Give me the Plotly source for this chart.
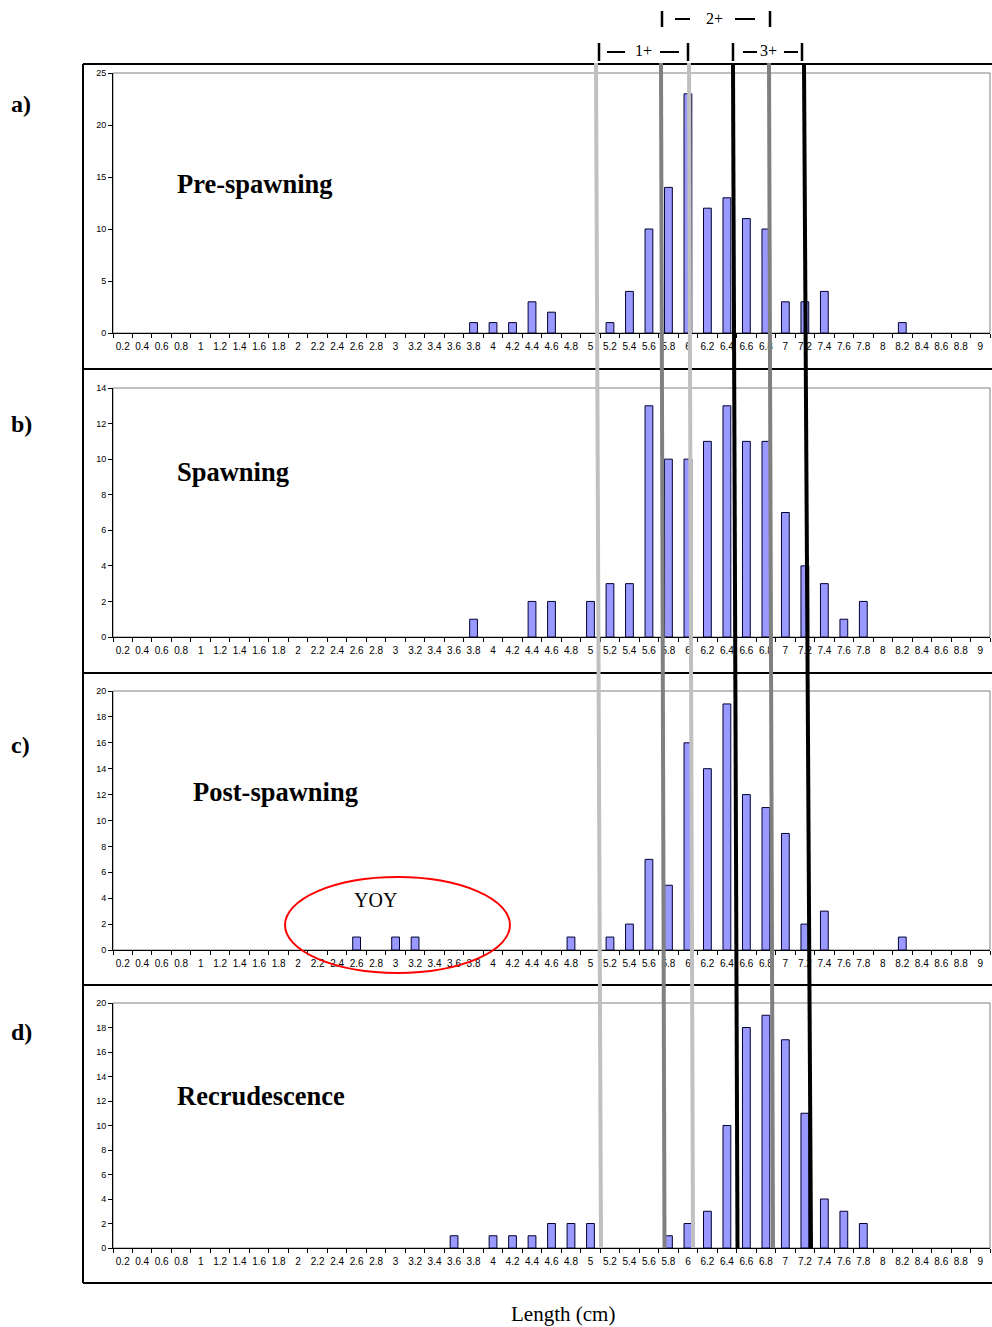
import plotly.graph_objects as go

# Length classes (cm) shown on every category axis
length_classes = ["0.2", "0.4", "0.6", "0.8", "1", "1.2", "1.4", "1.6", "1.8", "2",
                  "2.2", "2.4", "2.6", "2.8", "3", "3.2", "3.4", "3.6", "3.8", "4",
                  "4.2", "4.4", "4.6", "4.8", "5", "5.2", "5.4", "5.6", "5.8", "6",
                  "6.2", "6.4", "6.6", "6.8", "7", "7.2", "7.4", "7.6", "7.8", "8",
                  "8.2", "8.4", "8.6", "8.8", "9"]

# a) Pre-spawning
pre_len = ["3.8", "4", "4.2", "4.4", "4.6", "5.2", "5.4", "5.6", "5.8", "6",
           "6.2", "6.4", "6.6", "6.8", "7", "7.2", "7.4", "8.2"]
pre_n = [1, 1, 1, 3, 2, 1, 4, 10, 14, 23, 12, 13, 11, 10, 3, 3, 4, 1]

# b) Spawning
spawn_len = ["3.8", "4.4", "4.6", "5", "5.2", "5.4", "5.6", "5.8", "6", "6.2",
             "6.4", "6.6", "6.8", "7", "7.2", "7.4", "7.6", "7.8"]
spawn_n = [1, 2, 2, 2, 3, 3, 13, 10, 10, 11, 13, 11, 11, 7, 4, 3, 1, 2]

# c) Post-spawning
post_len = ["2.6", "3", "3.2", "4.8", "5.2", "5.4", "5.6", "5.8", "6", "6.2",
            "6.4", "6.6", "6.8", "7", "7.2", "7.4", "8.2"]
post_n = [1, 1, 1, 1, 1, 2, 7, 5, 16, 14, 19, 12, 11, 9, 2, 3, 1]

# d) Recrudescence
recr_len = ["3.6", "4", "4.2", "4.4", "4.6", "4.8", "5", "5.8", "6", "6.2",
            "6.4", "6.6", "6.8", "7", "7.2", "7.4", "7.6", "7.8"]
recr_n = [1, 1, 1, 1, 2, 2, 2, 1, 2, 3, 10, 18, 19, 17, 11, 4, 3, 2]

panel_letters = ["a)", "b)", "c)", "d)"]
panel_titles = ["Pre-spawning", "Spawning", "Post-spawning", "Recrudescence"]
y_max = [25, 14, 20, 20]
y_step = [5, 2, 2, 2]

W, H = 992, 1327


def px(x):
    return x / W


def py(y):
    return 1 - y / H


# pixel geometry of each panel: (plot top, plot bottom, title x, title y, letter y)
PLOT_L, PLOT_R = 113, 990
geom = [
    (73, 333, 175, 184, 104),
    (388, 637, 175, 472, 424),
    (691, 950, 191, 792, 745),
    (1003, 1248, 175, 1096, 1032),
]

series = [(pre_len, pre_n), (spawn_len, spawn_n), (post_len, post_n), (recr_len, recr_n)]

SERIF = "Liberation Serif, Times New Roman, serif"
SANS = "Liberation Sans, Arial, sans-serif"

fig = go.Figure()
shapes = []
annotations = []
layout_axes = {}

for i, (lens, counts) in enumerate(series):
    lookup = dict(zip(lens, counts))
    y_full = [lookup.get(c) for c in length_classes]
    k = "" if i == 0 else str(i + 1)
    fig.add_trace(go.Bar(
        x=length_classes, y=y_full, xaxis="x" + k, yaxis="y" + k,
        marker=dict(color="#9999FF", line=dict(color="#000033", width=1)),
        showlegend=False, hoverinfo="x+y",
    ))
    top, bot, tx, ty, ly = geom[i]
    layout_axes["xaxis" + k] = dict(
        domain=[px(PLOT_L), px(PLOT_R)], anchor="y" + k,
        type="category", categoryorder="array", categoryarray=length_classes,
        range=[-0.5, len(length_classes) - 0.5],
        tickmode="linear", dtick=1, tickson="boundaries",
        ticks="outside", ticklen=4, tickcolor="#000", tickwidth=1,
        ticklabelstandoff=4,
        tickangle=0, tickfont=dict(family=SANS, size=10, color="#000"),
        showline=True, linecolor="#000", linewidth=1, showgrid=False, zeroline=False,
        fixedrange=True, automargin=False,
    )
    layout_axes["yaxis" + k] = dict(
        domain=[py(bot), py(top)], anchor="x" + k,
        range=[0, y_max[i]], tickmode="linear", tick0=0, dtick=y_step[i],
        ticks="outside", ticklen=4, tickcolor="#000", tickwidth=1,
        tickfont=dict(family=SANS, size=9, color="#000"),
        showline=True, linecolor="#000", linewidth=1, showgrid=False, zeroline=False,
        fixedrange=True, automargin=False,
    )
    # grey plot-area frame
    shapes.append(dict(type="rect", xref="paper", yref="paper",
                       x0=px(PLOT_L), x1=px(PLOT_R), y0=py(bot), y1=py(top),
                       line=dict(color="#808080", width=1), layer="below"))
    annotations.append(dict(text="<b>" + panel_titles[i] + "</b>", x=px(tx), y=py(ty),
                            xref="paper", yref="paper", xanchor="left", yanchor="middle",
                            showarrow=False,
                            font=dict(family=SERIF, size=26.5, color="#000")))
    annotations.append(dict(text="<b>" + panel_letters[i] + "</b>", x=px(9), y=py(ly),
                            xref="paper", yref="paper", xanchor="left", yanchor="middle",
                            showarrow=False,
                            font=dict(family=SERIF, size=24, color="#000")))

# outer black panel frames
for yb in [64, 369, 673, 985, 1283]:
    shapes.append(dict(type="line", xref="paper", yref="paper",
                       x0=px(83), x1=px(1000), y0=py(yb), y1=py(yb),
                       line=dict(color="#000", width=2)))
shapes.append(dict(type="line", xref="paper", yref="paper",
                   x0=px(83), x1=px(83), y0=py(64), y1=py(1283),
                   line=dict(color="#000", width=2)))

# age-class boundary lines running through all panels (1+ light grey, 2+ dark grey, 3+ black)
age_lines = [
    (596, 601, "#C0C0C0"), (689, 693, "#C0C0C0"),
    (661, 664.5, "#808080"), (769, 773, "#808080"),
    (733, 737.5, "#000000"), (804, 811, "#000000"),
]
for x_top, x_bot, col in age_lines:
    shapes.append(dict(type="line", xref="paper", yref="paper",
                       x0=px(x_top), x1=px(x_bot), y0=py(63), y1=py(1248),
                       line=dict(color=col, width=4), layer="above"))


def bracket(x_left, x_right, y_mid, half, text, tx, dashes):
    for xb in (x_left, x_right):
        shapes.append(dict(type="line", xref="paper", yref="paper",
                           x0=px(xb), x1=px(xb), y0=py(y_mid - half), y1=py(y_mid + half),
                           line=dict(color="#000", width=2.5)))
    for d0, d1 in dashes:
        shapes.append(dict(type="line", xref="paper", yref="paper",
                           x0=px(d0), x1=px(d1), y0=py(y_mid), y1=py(y_mid),
                           line=dict(color="#000", width=2)))
    annotations.append(dict(text=text, x=px(tx), y=py(y_mid - 1),
                            xref="paper", yref="paper", xanchor="center", yanchor="middle",
                            showarrow=False,
                            font=dict(family=SERIF, size=16, color="#000")))


bracket(599, 688, 52, 9, "1+", 643, [(607, 625), (660, 679)])
bracket(733, 802, 52, 9, "3+", 768, [(743, 757), (784, 798)])
bracket(662, 770, 19, 8, "2+", 714, [(675, 690), (735, 755)])

# young-of-the-year group in panel c
shapes.append(dict(type="circle", xref="paper", yref="paper",
                   x0=px(285), x1=px(510), y0=py(973), y1=py(877),
                   line=dict(color="#FF0000", width=2), layer="above"))
annotations.append(dict(text="YOY", x=px(375), y=py(900), xref="paper", yref="paper",
                        xanchor="center", yanchor="middle", showarrow=False,
                        font=dict(family=SERIF, size=20, color="#000")))

annotations.append(dict(text="Length (cm)", x=px(563), y=py(1314), xref="paper", yref="paper",
                        xanchor="center", yanchor="middle", showarrow=False,
                        font=dict(family=SERIF, size=21, color="#000")))

fig.update_layout(
    width=W, height=H, margin=dict(l=0, r=0, t=0, b=0, pad=0, autoexpand=False),
    paper_bgcolor="#FFFFFF", plot_bgcolor="#FFFFFF",
    bargap=0.6, showlegend=False,
    shapes=shapes, annotations=annotations,
    **layout_axes,
)

fig.write_html("out.html")
